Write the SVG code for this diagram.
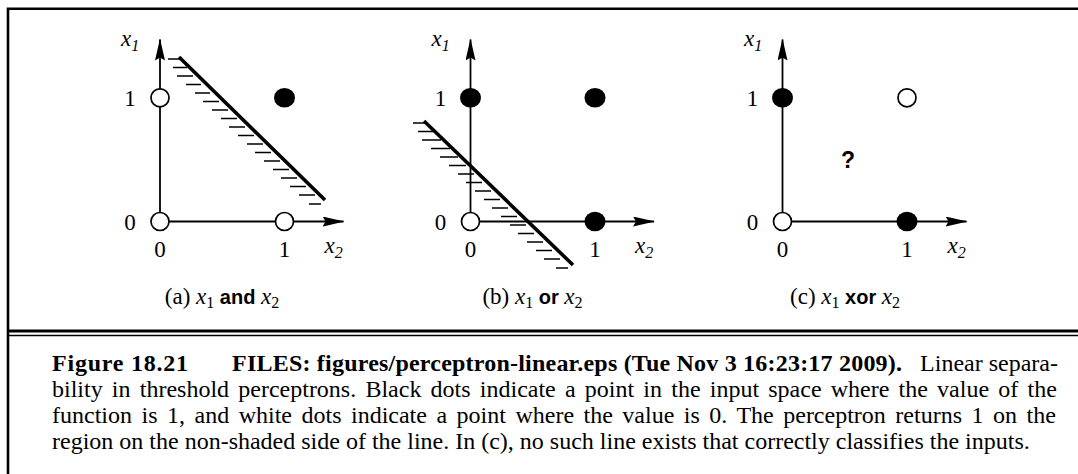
<svg xmlns="http://www.w3.org/2000/svg" width="1078" height="474" viewBox="0 0 1078 474">
<style>
.frame{fill:none;stroke:#000}
.axis{fill:none;stroke:#000;stroke-width:1.8}
.sep{fill:none;stroke:#000;stroke-width:3.6}
.hatch{fill:none;stroke:#000;stroke-width:1.3}
.open{fill:#fff;stroke:#000;stroke-width:1.7}
.filled{fill:#000;stroke:none}
.lbl{font-family:"Liberation Serif","Times New Roman",serif;font-size:23px;fill:#000}
.it{font-style:italic}
.sub{font-size:16px}
.bsans{font-family:"Liberation Sans",Arial,sans-serif;font-weight:bold;font-size:20px}
.q{font-family:"Liberation Sans",Arial,sans-serif;font-weight:bold;font-size:23px;fill:#000}
.cap{font-family:"Liberation Serif","Times New Roman",serif;font-size:24px;fill:#000}
.b{font-weight:bold}
</style>
<defs>
<marker id="arr" viewBox="0 0 22 10" refX="21" refY="5" markerWidth="22" markerHeight="10" markerUnits="userSpaceOnUse" orient="auto">
<path d="M0,0 L22,5 L0,10 L3,5 Z" fill="#000"/>
</marker>
</defs>
<rect width="1078" height="474" fill="#fff"/>
<path class="frame" d="M8,474 V8.7 H1078" stroke-width="2.6"/>
<line x1="8" y1="331" x2="1078" y2="331" stroke="#000" stroke-width="3"/>
<line x1="8" y1="335.5" x2="1078" y2="335.5" stroke="#000" stroke-width="1.6"/>

<g id="connectors">
  <line class="axis" x1="160" y1="221.5" x2="160" y2="39.5" marker-end="url(#arr)"/>
  <line class="axis" x1="160" y1="221.5" x2="343.5" y2="221.5" marker-end="url(#arr)"/>
  <line class="axis" x1="470.5" y1="221.5" x2="470.5" y2="39.5" marker-end="url(#arr)"/>
  <line class="axis" x1="470.5" y1="221.5" x2="654" y2="221.5" marker-end="url(#arr)"/>
  <line class="axis" x1="782.5" y1="221.5" x2="782.5" y2="39.5" marker-end="url(#arr)"/>
  <line class="axis" x1="782.5" y1="221.5" x2="966.5" y2="221.5" marker-end="url(#arr)"/>
  <line class="sep" x1="179" y1="57" x2="325" y2="200"/>
  <path class="hatch" d="M168,59 h14 M173,67.5 h14 M177,76 h16 M186,84.5 h15 M195,93 h15 M203,101.5 h16 M212,110 h16 M221,118.5 h16 M229,127 h16 M238,135.5 h16 M247,144 h16 M255,152.5 h16 M264,161 h16 M273,169.5 h16 M281,178 h16 M290,186.5 h16 M299,195 h16 M309,204 h12"/>
  <line class="sep" x1="424" y1="121" x2="573" y2="265"/>
  <path class="hatch" d="M413,123 h14 M418,131.5 h15 M422,140 h19 M431,148.5 h19 M440,157 h18 M449,165.5 h17 M458,174 h16 M466,182.5 h16 M475,191 h16 M484,199.5 h16 M492,208 h16 M501,216.5 h16 M510,225 h16 M518,233.5 h16 M527,242 h16 M536,250.5 h16 M544,259 h16 M556,268 h12"/>
</g>

<g id="panel-a">
  <circle id="a-00" class="open" cx="160" cy="221.5" r="9"/>
  <circle id="a-01" class="open" cx="160" cy="97.8" r="9"/>
  <circle id="a-10" class="open" cx="284.5" cy="221.5" r="9"/>
  <ellipse id="a-11" class="filled" cx="284.5" cy="97.8" rx="10.5" ry="9.8"/>
  <text class="lbl it" x="121" y="46">x<tspan class="sub" dy="5">1</tspan></text>
  <text class="lbl" x="130" y="106" text-anchor="middle">1</text>
  <text class="lbl" x="130" y="229.5" text-anchor="middle">0</text>
  <text class="lbl" x="160" y="257" text-anchor="middle">0</text>
  <text class="lbl" x="284.5" y="257" text-anchor="middle">1</text>
  <text class="lbl it" x="324.5" y="253">x<tspan class="sub" dy="5">2</tspan></text>
  <text class="lbl" x="222" y="304" text-anchor="middle">(a) <tspan class="it">x</tspan><tspan class="sub" dy="4">1</tspan><tspan class="bsans" dy="-4"> and </tspan><tspan class="it">x</tspan><tspan class="sub" dy="4">2</tspan></text>
</g>

<g id="panel-b">
  <circle id="b-00" class="open" cx="470.5" cy="221.5" r="9"/>
  <ellipse id="b-01" class="filled" cx="470.5" cy="97.8" rx="10.5" ry="9.8"/>
  <ellipse id="b-10" class="filled" cx="595" cy="221.5" rx="10.5" ry="9.8"/>
  <ellipse id="b-11" class="filled" cx="595" cy="97.8" rx="10.5" ry="9.8"/>
  <text class="lbl it" x="431.5" y="46">x<tspan class="sub" dy="5">1</tspan></text>
  <text class="lbl" x="440.5" y="106" text-anchor="middle">1</text>
  <text class="lbl" x="440.5" y="229.5" text-anchor="middle">0</text>
  <text class="lbl" x="470.5" y="257" text-anchor="middle">0</text>
  <text class="lbl" x="595" y="257" text-anchor="middle">1</text>
  <text class="lbl it" x="635" y="253">x<tspan class="sub" dy="5">2</tspan></text>
  <text class="lbl" x="532.5" y="304" text-anchor="middle">(b) <tspan class="it">x</tspan><tspan class="sub" dy="4">1</tspan><tspan class="bsans" dy="-4"> or </tspan><tspan class="it">x</tspan><tspan class="sub" dy="4">2</tspan></text>
</g>

<g id="panel-c">
  <circle id="c-00" class="open" cx="782.5" cy="221.5" r="9"/>
  <ellipse id="c-01" class="filled" cx="782.5" cy="97.8" rx="10.5" ry="9.8"/>
  <ellipse id="c-10" class="filled" cx="907" cy="221.5" rx="10.5" ry="9.8"/>
  <circle id="c-11" class="open" cx="907" cy="97.8" r="9"/>
  <text class="q" x="848" y="168" text-anchor="middle">?</text>
  <text class="lbl it" x="744" y="46">x<tspan class="sub" dy="5">1</tspan></text>
  <text class="lbl" x="752.5" y="106" text-anchor="middle">1</text>
  <text class="lbl" x="752.5" y="229.5" text-anchor="middle">0</text>
  <text class="lbl" x="782.5" y="257" text-anchor="middle">0</text>
  <text class="lbl" x="907" y="257" text-anchor="middle">1</text>
  <text class="lbl it" x="947.5" y="253">x<tspan class="sub" dy="5">2</tspan></text>
  <text class="lbl" x="845" y="304" text-anchor="middle">(c) <tspan class="it">x</tspan><tspan class="sub" dy="4">1</tspan><tspan class="bsans" dy="-4"> xor </tspan><tspan class="it">x</tspan><tspan class="sub" dy="4">2</tspan></text>
</g>

<g id="caption">
  <text class="cap b" x="52" y="371" textLength="136" lengthAdjust="spacing">Figure 18.21</text>
  <text class="cap b" x="232" y="371" textLength="670" lengthAdjust="spacing">FILES: figures/perceptron-linear.eps (Tue Nov 3 16:23:17 2009).</text>
  <text class="cap" x="1058" y="371" text-anchor="end">Linear separa-</text>
  <text class="cap" x="52" y="397" style="word-spacing:3.2px">bility in threshold perceptrons. Black dots indicate a point in the input space where the value of the</text>
  <text class="cap" x="52" y="423" style="word-spacing:3.5px">function is 1, and white dots indicate a point where the value is 0. The perceptron returns 1 on the</text>
  <text class="cap" x="52" y="449">region on the non-shaded side of the line. In (c), no such line exists that correctly classifies the inputs.</text>
</g>
</svg>
